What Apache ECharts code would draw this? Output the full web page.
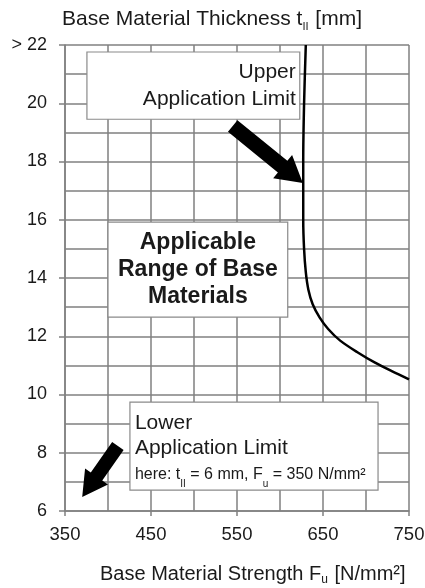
<!DOCTYPE html>
<html>
<head>
<meta charset="utf-8">
<script src="https://cdn.jsdelivr.net/npm/echarts@6/dist/echarts.min.js"></script>
<style>
  html, body { margin: 0; padding: 0; background: #fff; }
  #chart { width: 425px; height: 588px; }
</style>
</head>
<body>
<div id="chart"></div>
<script>
// limit curve: base material strength vs thickness
const strength = [630, 628, 627, 627, 628, 630, 633, 638, 646, 656, 670, 690, 710, 730, 750];
const thickness = [22, 20, 18, 16, 15, 14.2, 13.6, 13.1, 12.65, 12.25, 11.85, 11.45, 11.1, 10.8, 10.52];

// annotation boxes in data units: [xMin, xMax, yTop, yBottom]
const upperBox = [375.5, 623, 21.76, 19.45];
const rangeBox = [400, 609, 15.92, 12.66];
const lowerBox = [425.5, 714, 9.74, 6.72];

// arrows in data units: [tail, tip]
const upperArrow = [[545, 19.22], [626.5, 17.26]];
const lowerArrow = [[411.5, 8.23], [370, 6.48]];

const GRID_COLOR = "#808080";
const TEXT_COLOR = "#1a1a1a";
const FONT = "Liberation Sans, Arial, sans-serif";

const chart = echarts.init(document.getElementById("chart"), null, { renderer: "canvas" });

const option = {
  animation: false,
  backgroundColor: "#fff",
  title: [
    {
      text: "{m|Base Material Thickness t}{s|II}{m| [mm]}",
      left: 62,
      top: 6,
      padding: 0,
      textStyle: {
        fontWeight: "normal",
        rich: {
          m: { fontSize: 21, fontWeight: "normal", fontFamily: FONT, color: TEXT_COLOR, lineHeight: 26 },
          s: { fontSize: 11, fontWeight: "normal", fontFamily: FONT, color: TEXT_COLOR, lineHeight: 26, verticalAlign: "bottom", padding: [9, 1, 0, 0] },
        },
      },
    },
    {
      text: "{m|Base Material Strength F}{s|u}{m| [N/mm²]}",
      left: 100,
      top: 562,
      padding: 0,
      textStyle: {
        fontWeight: "normal",
        rich: {
          m: { fontSize: 20, fontWeight: "normal", fontFamily: FONT, color: TEXT_COLOR, lineHeight: 24 },
          s: { fontSize: 12, fontWeight: "normal", fontFamily: FONT, color: TEXT_COLOR, lineHeight: 24, verticalAlign: "bottom", padding: [9, 1, 0, 0] },
        },
      },
    },
  ],
  grid: { left: 65, right: 16, top: 45, bottom: 77, containLabel: false, outerBoundsMode: "none" },
  xAxis: {
    type: "value",
    min: 350,
    max: 750,
    interval: 100,
    axisLine: { show: true, lineStyle: { color: GRID_COLOR, width: 1.5 } },
    axisTick: { show: true, length: 5, lineStyle: { color: GRID_COLOR, width: 1.5 } },
    axisLabel: { color: TEXT_COLOR, fontSize: 18.5, fontFamily: FONT, margin: 14 },
    splitLine: { show: true, lineStyle: { color: GRID_COLOR, width: 1.5 } },
    minorTick: { show: false, splitNumber: 2 },
    minorSplitLine: { show: true, lineStyle: { color: GRID_COLOR, width: 1.5 } },
  },
  yAxis: {
    type: "value",
    min: 6,
    max: 22,
    interval: 2,
    axisLine: { show: true, lineStyle: { color: GRID_COLOR, width: 1.5 } },
    axisTick: { show: true, length: 6, lineStyle: { color: GRID_COLOR, width: 1.5 } },
    axisLabel: {
      color: TEXT_COLOR,
      fontSize: 18,
      fontFamily: FONT,
      margin: 18,
      formatter: (v) => (v === 22 ? "> 22" : String(v)),
    },
    splitLine: { show: true, lineStyle: { color: GRID_COLOR, width: 1.5 } },
    minorTick: { show: false, splitNumber: 2 },
    minorSplitLine: { show: true, lineStyle: { color: GRID_COLOR, width: 1.5 } },
  },
  series: [
    {
      type: "line",
      data: strength.map((x, i) => [x, thickness[i]]),
      smooth: 0.3,
      symbol: "none",
      lineStyle: { color: "#000", width: 2.5 },
      z: 5,
    },
  ],
};

chart.setOption(option);

const px = (p) => chart.convertToPixel({ gridIndex: 0 }, p);

function boxRect(b) {
  const a = px([b[0], b[2]]);
  const c = px([b[1], b[3]]);
  return { x: a[0], y: a[1], width: c[0] - a[0], height: c[1] - a[1] };
}

function arrowPoints(tail, tip, shaftHalf, headHalf, headLen) {
  const p0 = px(tail);
  const p1 = px(tip);
  const dx = p1[0] - p0[0];
  const dy = p1[1] - p0[1];
  const len = Math.sqrt(dx * dx + dy * dy);
  const ux = dx / len, uy = dy / len;
  const nx = -uy, ny = ux;
  const bx = p1[0] - ux * headLen, by = p1[1] - uy * headLen;
  return [
    [p0[0] + nx * shaftHalf, p0[1] + ny * shaftHalf],
    [bx + nx * shaftHalf, by + ny * shaftHalf],
    [bx + nx * headHalf, by + ny * headHalf],
    [p1[0], p1[1]],
    [bx - nx * headHalf, by - ny * headHalf],
    [bx - nx * shaftHalf, by - ny * shaftHalf],
    [p0[0] - nx * shaftHalf, p0[1] - ny * shaftHalf],
  ];
}

const boxStyle = { fill: "#fff", stroke: "#8a8a8a", lineWidth: 1.2 };
const ur = boxRect(upperBox);
const rr = boxRect(rangeBox);
const lr = boxRect(lowerBox);

chart.setOption({
  graphic: [
    { type: "rect", z: 10, shape: ur, style: boxStyle },
    {
      type: "text", z: 11,
      x: ur.x + ur.width - 4, y: ur.y + 7,
      style: {
        text: "Upper\nApplication Limit",
        align: "right", verticalAlign: "top",
        font: "21px " + FONT, lineHeight: 27, fill: TEXT_COLOR,
      },
    },
    { type: "rect", z: 10, shape: rr, style: boxStyle },
    {
      type: "text", z: 11,
      x: rr.x + rr.width / 2, y: rr.y + rr.height / 2,
      style: {
        text: "Applicable\nRange of Base\nMaterials",
        align: "center", verticalAlign: "middle",
        font: "bold 23px " + FONT, lineHeight: 27, fill: TEXT_COLOR,
      },
    },
    { type: "rect", z: 10, shape: lr, style: boxStyle },
    {
      type: "text", z: 11,
      x: lr.x + 5, y: lr.y + 9,
      style: {
        text: "{a|Lower}\n{a|Application Limit}\n{s|here: t}{ss|II}{s| = 6 mm, F}{ss|u}{s| = 350 N/mm²}",
        align: "left", verticalAlign: "top",
        fill: TEXT_COLOR,
        rich: {
          a: { fontSize: 21, fontFamily: FONT, lineHeight: 25, color: TEXT_COLOR },
          s: { fontSize: 16, fontFamily: FONT, lineHeight: 28, color: TEXT_COLOR },
          ss: { fontSize: 10, fontFamily: FONT, lineHeight: 17, color: TEXT_COLOR, verticalAlign: "bottom" },
        },
      },
    },
    {
      type: "polygon", z: 12,
      shape: { points: arrowPoints(upperArrow[0], upperArrow[1], 7.5, 15, 26) },
      style: { fill: "#000" },
    },
    {
      type: "polygon", z: 12,
      shape: { points: arrowPoints(lowerArrow[0], lowerArrow[1], 7, 14, 25) },
      style: { fill: "#000" },
    },
  ],
});
</script>
</body>
</html>
